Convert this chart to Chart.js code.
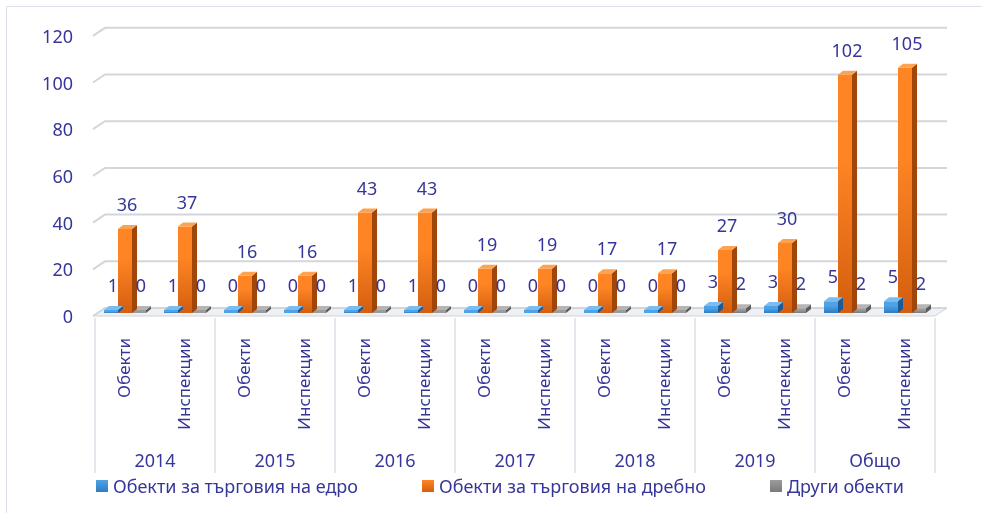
<!DOCTYPE html>
<html>
<head>
<meta charset="utf-8">
<script src="https://cdn.jsdelivr.net/npm/chart.js@4"></script>
<style>
  body { margin: 0; background: #fff; }
  #wrap { position: relative; width: 982px; height: 513px; overflow: hidden; }
  #frame { position: absolute; left: 6px; top: 6px; width: 990px; height: 520px;
           border-left: 1px solid #dde1ea; border-top: 1px solid #dde1ea; }
  .item { position: absolute; top: 474px; font: 18px "Noto Sans", sans-serif; color: #36369a;
          white-space: nowrap; display: flex; align-items: center; }
  .item span.box { width: 12px; height: 12px; margin-right: 5px; display: inline-block; }
</style>
</head>
<body>
<div id="wrap">
  <div id="frame"></div>
  <canvas id="myChart" width="982" height="513"></canvas>
  <div id="legend"></div>
</div>
<script>
const categories = ["Обекти", "Инспекции", "Обекти", "Инспекции", "Обекти", "Инспекции",
  "Обекти", "Инспекции", "Обекти", "Инспекции", "Обекти", "Инспекции", "Обекти", "Инспекции"];
const years = ["2014", "2015", "2016", "2017", "2018", "2019", "Общо"];
const wholesale = [1, 1, 0, 0, 1, 1, 0, 0, 0, 0, 3, 3, 5, 5];
const retail = [36, 37, 16, 16, 43, 43, 19, 19, 17, 17, 27, 30, 102, 105];
const other = [0, 0, 0, 0, 0, 0, 0, 0, 0, 0, 2, 2, 2, 2];
const seriesNames = ["Обекти за търговия на едро", "Обекти за търговия на дребно", "Други обекти"];

const textColor = "#36369a";
const fontFamily = '"Noto Sans", sans-serif';
// front colour top/bottom, side, top face
const palette = [
  { top: "#4ea3e6", bottom: "#2f7cc4", side: "#1f5a94", cap: "#7cbcef" },
  { top: "#ff8524", bottom: "#d45e0f", side: "#a0460b", cap: "#ffa24f" },
  { top: "#9b9b9b", bottom: "#7a7a7a", side: "#5c5c5c", cap: "#b5b5b5" },
];

// gradient per bar, from its own top down to zero
function grad(i) {
  return (ctx) => {
    const y = ctx.chart.scales.y;
    if (!y || ctx.type !== "data") return palette[i].top;
    const top = y.getPixelForValue(ctx.raw);
    const base = y.getPixelForValue(0);
    if (!(base - top > 1)) return palette[i].top;
    const g = ctx.chart.ctx.createLinearGradient(0, top, 0, base);
    g.addColorStop(0, palette[i].top);
    g.addColorStop(0.35, palette[i].top);
    g.addColorStop(1, palette[i].bottom);
    return g;
  };
}

const depth = { dx: 5, dy: -4 };

const backWall = {
  id: "backWall",
  beforeDatasetsDraw(chart) {
    const { ctx, chartArea } = chart;
    const y = chart.scales.y;
    ctx.save();
    // floor
    const b = chartArea.bottom;
    ctx.fillStyle = "#eef0f3";
    ctx.strokeStyle = "#cfd3da";
    ctx.lineWidth = 1;
    ctx.beginPath();
    ctx.moveTo(chartArea.left - 2, b + 3);
    ctx.lineTo(chartArea.right, b + 3);
    ctx.lineTo(chartArea.right + 12, b - 5);
    ctx.lineTo(chartArea.left + 10, b - 5);
    ctx.closePath();
    ctx.fill();
    ctx.stroke();
    // grid lines on the back wall
    y.ticks.forEach((t) => {
      const py = y.getPixelForValue(t.value) - 5;
      ctx.strokeStyle = "#d3d6dc";
      ctx.lineWidth = 2;
      ctx.beginPath();
      ctx.moveTo(chartArea.left - 2, py + 8);
      ctx.lineTo(chartArea.left + 10, py);
      ctx.lineTo(chartArea.right + 12, py);
      ctx.stroke();
    });
    ctx.restore();
  },
};

const bars3d = {
  id: "bars3d",
  afterDatasetDraw(chart, args) {
    const { ctx } = chart;
    const p = palette[args.index];
    ctx.save();
    args.meta.data.forEach((bar) => {
      const w = bar.width;
      const l = bar.x - w / 2, r = bar.x + w / 2;
      const top = bar.y, base = bar.base;
      ctx.fillStyle = p.side;
      ctx.beginPath();
      ctx.moveTo(r, top);
      ctx.lineTo(r + depth.dx, top + depth.dy);
      ctx.lineTo(r + depth.dx, base + depth.dy);
      ctx.lineTo(r, base);
      ctx.closePath();
      ctx.fill();
      ctx.fillStyle = p.cap;
      ctx.beginPath();
      ctx.moveTo(l, top);
      ctx.lineTo(l + depth.dx, top + depth.dy);
      ctx.lineTo(r + depth.dx, top + depth.dy);
      ctx.lineTo(r, top);
      ctx.closePath();
      ctx.fill();
    });
    ctx.restore();
  },
};

const valueLabels = {
  id: "valueLabels",
  afterDatasetsDraw(chart) {
    const { ctx } = chart;
    ctx.save();
    ctx.font = "18px " + fontFamily;
    ctx.fillStyle = textColor;
    ctx.textAlign = "center";
    ctx.textBaseline = "middle";
    chart.data.datasets.forEach((ds, i) => {
      chart.getDatasetMeta(i).data.forEach((bar, j) => {
        ctx.fillText(String(ds.data[j]), bar.x + 2, bar.y - 23);
      });
    });
    ctx.restore();
  },
};

const yearRow = {
  id: "yearRow",
  afterDraw(chart) {
    const { ctx, chartArea } = chart;
    const x = chart.scales.x;
    const half = (x.getPixelForValue(1) - x.getPixelForValue(0)) / 2;
    ctx.save();
    ctx.strokeStyle = "#dde1ea";
    ctx.lineWidth = 1.5;
    for (let i = 0; i <= years.length; i++) {
      const px = i < years.length ? x.getPixelForValue(i * 2) - half : x.getPixelForValue(i * 2 - 1) + half;
      ctx.beginPath();
      ctx.moveTo(px, chartArea.bottom + 5);
      ctx.lineTo(px, chartArea.bottom + 160);
      ctx.stroke();
    }
    ctx.font = "18px " + fontFamily;
    ctx.fillStyle = textColor;
    ctx.textAlign = "center";
    ctx.textBaseline = "middle";
    years.forEach((yr, i) => {
      const cx = (x.getPixelForValue(i * 2) + x.getPixelForValue(i * 2 + 1)) / 2;
      ctx.fillText(yr, cx, chartArea.bottom + 149);
    });
    ctx.restore();
  },
};

new Chart(document.getElementById("myChart"), {
  type: "bar",
  data: {
    labels: categories,
    datasets: [wholesale, retail, other].map((d, i) => ({
      label: seriesNames[i],
      data: d,
      backgroundColor: grad(i),
      minBarLength: 3,
      barPercentage: 1,
      categoryPercentage: 0.7,
    })),
  },
  options: {
    responsive: false,
    animation: false,
    devicePixelRatio: 1,
    layout: { padding: { top: 30, right: 47, left: 0, bottom: 0 } },
    plugins: { legend: { display: false }, tooltip: { enabled: false } },
    scales: {
      x: {
        grid: { display: false },
        border: { display: false },
        ticks: {
          autoSkip: false, minRotation: 90, maxRotation: 90, padding: 17,
          color: textColor, font: { family: fontFamily, size: 17 },
        },
        afterFit(s) { s.height = 200; },
      },
      y: {
        min: 0, max: 120,
        grid: { display: false, drawTicks: false },
        border: { display: false },
        ticks: {
          stepSize: 20, padding: 22, labelOffset: 5,
          color: textColor, font: { family: fontFamily, size: 18 },
        },
        afterFit(s) { s.width = 95; },
      },
    },
  },
  plugins: [backWall, bars3d, valueLabels, yearRow],
});

const lefts = [96, 422, 770];
const legend = document.getElementById("legend");
seriesNames.forEach((name, i) => {
  const el = document.createElement("div");
  el.className = "item";
  el.style.left = lefts[i] + "px";
  const box = document.createElement("span");
  box.className = "box";
  box.style.background = "linear-gradient(" + palette[i].top + "," + palette[i].bottom + ")";
  el.appendChild(box);
  el.appendChild(document.createTextNode(name));
  legend.appendChild(el);
});
</script>
</body>
</html>
